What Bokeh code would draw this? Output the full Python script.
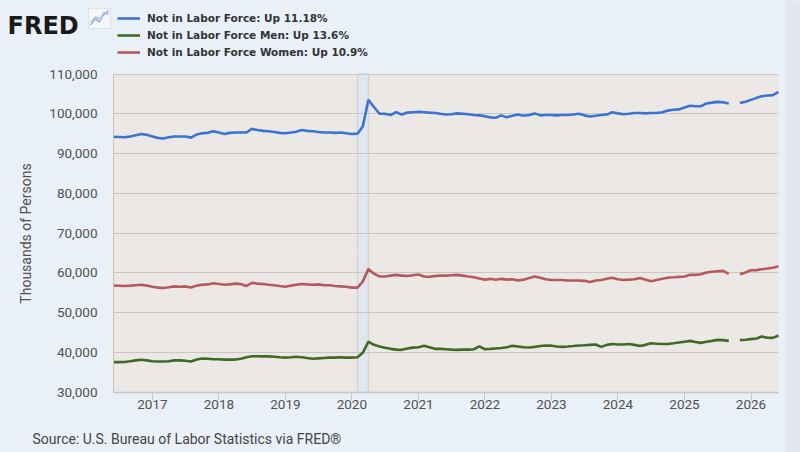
import numpy as np
import pandas as pd
from bokeh.plotting import figure
from bokeh.models import (Range1d, FixedTicker, NumeralTickFormatter, DatetimeTickFormatter,
                          Legend, LegendItem, Label, BoxAnnotation, PolyAnnotation,
                          GlobalInlineStyleSheet)
from bokeh.embed import file_html
from bokeh.resources import INLINE

nan = float("nan")

start_month = "2016-06-01"
end_month = "2026-06-01"

total_nilf = [
    94200, 94150, 94100, 94300, 94600, 94900, 94700,
    94300, 93900, 93800, 94100, 94300, 94300, 94300, 94000, 94800, 95100, 95200, 95600,
    95300, 94900, 95200, 95300, 95300, 95300, 96200, 95900, 95700, 95600, 95400, 95200,
    95100, 95300, 95500, 95900, 95700, 95600, 95400, 95300, 95300, 95200, 95300, 95100,
    94900, 95000, 96800, 103500, 101700, 100000, 100000, 99700, 100400, 99800, 100300, 100400,
    100500, 100400, 100300, 100200, 100000, 99800, 99900, 100100, 100000, 99900, 99700, 99600,
    99400, 99100, 99000, 99600, 99100, 99500, 99800, 99500, 99700, 100100, 99600, 99700,
    99700, 99600, 99700, 99700, 99800, 100000, 99600, 99300, 99500, 99700, 99800, 100400,
    100100, 99900, 100000, 100200, 100200, 100100, 100200, 100200, 100400, 100800, 101000, 101100,
    101600, 102000, 101900, 101900, 102600, 102800, 103000, 102900, 102600, nan, 102700, 103000,
    103500, 104000, 104400, 104600, 104700, 105500,
]

men_nilf = [
    37550, 37550, 37600, 37800, 38000, 38150, 38000,
    37800, 37700, 37700, 37800, 38000, 38000, 37900, 37700, 38200, 38450, 38400, 38300,
    38300, 38200, 38200, 38200, 38400, 38800, 39050, 39050, 39000, 39000, 38900, 38800,
    38700, 38800, 38900, 38800, 38600, 38400, 38500, 38600, 38700, 38700, 38800, 38700,
    38700, 38800, 39900, 42700, 41900, 41500, 41200, 40900, 40700, 40650, 41000, 41200,
    41300, 41650, 41300, 40900, 40900, 40800, 40700, 40650, 40700, 40700, 40800, 41500,
    40800, 40900, 41000, 41100, 41300, 41650, 41500, 41300, 41250, 41400, 41600, 41750,
    41700, 41500, 41400, 41500, 41600, 41750, 41800, 41900, 42000, 41400, 41900, 42100,
    42000, 42000, 42100, 41900, 41600, 41900, 42300, 42200, 42100, 42100, 42300, 42500,
    42700, 42900, 42600, 42400, 42700, 42900, 43150, 43100, 42900, nan, 43100, 43200,
    43350, 43500, 44000, 43700, 43650, 44250,
]

women_nilf = [
    56800, 56750, 56700, 56800, 56900, 57000, 56800,
    56500, 56300, 56200, 56400, 56600, 56500, 56600, 56300, 56800, 57000, 57100, 57400,
    57200, 57000, 57100, 57300, 57200, 56700, 57500, 57300, 57200, 57000, 56900, 56700,
    56500, 56800, 57000, 57200, 57100, 57000, 57100, 56900, 56900, 56700, 56600, 56500,
    56300, 56300, 57800, 61000, 59800, 59100, 59100, 59300, 59500, 59300, 59200, 59400,
    59600, 59100, 59000, 59200, 59300, 59300, 59400, 59500, 59300, 59100, 58900, 58600,
    58300, 58500, 58250, 58500, 58300, 58400, 58100, 58300, 58700, 59100, 58800, 58400,
    58200, 58200, 58200, 58100, 58100, 58100, 58000, 57700, 58100, 58200, 58500, 58800,
    58400, 58200, 58300, 58400, 58700, 58300, 57900, 58200, 58500, 58800, 58900, 59000,
    59100, 59500, 59500, 59650, 60100, 60300, 60400, 60500, 59750, nan, 59650, 60100,
    60650, 60700, 60900, 61100, 61300, 61650,
]

series_labels = [
    "Not in Labor Force: Up 11.18%",
    "Not in Labor Force Men: Up 13.6%",
    "Not in Labor Force Women: Up 10.9%",
]
series_colors = ["#3c73d2", "#3d6b26", "#b55a5c"]

tick_years = [2017, 2018, 2019, 2020, 2021, 2022, 2023, 2024, 2025, 2026]
recession = ("2020-02-01", "2020-04-01")
y_min, y_max = 30000, 110000
y_ticks = [30000, 40000, 50000, 60000, 70000, 80000, 90000, 100000, 110000]

dates = pd.date_range(start_month, end_month, freq="MS")


def ms(d):
    return pd.Timestamp(d).value / 1e6


# canvas geometry (px): the page has no margin, the plotting area sits inside a full-canvas frame
W, H = 800, 452
area_left, area_right = 113.0, 778.0
area_top, area_bottom = 73.5, 391.7

t0, t1 = ms(start_month), ms(end_month)
px_x = (t1 - t0) / (area_right - area_left)
px_y = (y_max - y_min) / (area_bottom - area_top)
x_range = Range1d(t0 - area_left * px_x, t1 + (W - area_right) * px_x)
y_range = Range1d(y_min - (H - area_bottom) * px_y, y_max + area_top * px_y)

PAGE = "#eaf0f8"
AREA = "#ece8e6"

p = figure(width=W, height=H, x_axis_type="datetime", x_range=x_range, y_range=y_range,
           output_backend="svg", toolbar_location=None,
           min_border_left=0, min_border_right=0, min_border_top=0, min_border_bottom=0)
p.border_fill_color = PAGE
p.background_fill_color = PAGE
p.outline_line_color = None
p.stylesheets = [GlobalInlineStyleSheet(css="html,body{margin:0;padding:0;overflow:hidden;background:%s;}" % PAGE)]

# strip at the right edge of the page
p.add_layout(BoxAnnotation(left=785, right=W, top=H, bottom=0,
                           left_units="screen", right_units="screen",
                           top_units="screen", bottom_units="screen",
                           fill_color="#e4e8ee", fill_alpha=1, line_alpha=0, level="image"))

# plotting area background and recession band
p.add_layout(BoxAnnotation(left=t0, right=t1, bottom=y_min, top=y_max,
                           fill_color=AREA, fill_alpha=1.0, line_alpha=0, level="image"))
p.add_layout(BoxAnnotation(left=ms(recession[0]), right=ms(recession[1]), bottom=y_min, top=y_max,
                           fill_color="#e2e7ef", fill_alpha=1.0,
                           line_color="#9fa4ae", line_width=1.4, level="image"))

renderers = []
for vals, col in zip([total_nilf, men_nilf, women_nilf], series_colors):
    r = p.line(dates, np.array(vals, dtype=float), line_color=col, line_width=2.6)
    renderers.append(r)

# axes placed on the plotting area edges
p.xaxis.fixed_location = y_min
p.xaxis.bounds = (t0, t1)
p.xaxis.ticker = FixedTicker(ticks=[ms(f"{y}-01-01") for y in tick_years])
p.xaxis.formatter = DatetimeTickFormatter(years="%Y", months="%Y", days="%Y")
p.xaxis.major_tick_out = 8
p.xaxis.major_tick_in = 0
p.xaxis.minor_tick_out = 0
p.xaxis.minor_tick_in = 0
p.xaxis.major_tick_line_color = "#c8c8c8"
p.xaxis.axis_line_color = "#c4c4c4"
p.xaxis.axis_line_width = 1.5
p.xaxis.major_label_standoff = 0
p.xaxis.major_label_text_font = "Roboto"
p.xaxis.major_label_text_font_size = "13.5px"
p.xaxis.major_label_text_color = "#505050"

p.yaxis.fixed_location = t0
p.yaxis.bounds = (y_min, y_max)
p.yaxis.ticker = FixedTicker(ticks=y_ticks)
p.yaxis.formatter = NumeralTickFormatter(format="0,0")
p.yaxis.major_tick_out = 0
p.yaxis.major_tick_in = 0
p.yaxis.minor_tick_out = 0
p.yaxis.minor_tick_in = 0
p.yaxis.axis_line_color = "#c4c4c4"
p.yaxis.major_label_standoff = 16
p.yaxis.major_label_text_font = "Roboto"
p.yaxis.major_label_text_font_size = "13.5px"
p.yaxis.major_label_text_color = "#505050"
p.yaxis.axis_label = "Thousands of Persons"
p.yaxis.axis_label_text_font = "Roboto"
p.yaxis.axis_label_text_font_size = "14px"
p.yaxis.axis_label_text_font_style = "normal"
p.yaxis.axis_label_text_color = "#505050"
p.yaxis.axis_label_standoff = 12

p.xgrid.grid_line_color = None
p.ygrid.grid_line_color = "#c9c6c4"
p.ygrid.grid_line_width = 1.2
p.ygrid.cross_bounds = (t0, t1)

# legend
legend = Legend(items=[LegendItem(label=l, renderers=[r]) for l, r in zip(series_labels, renderers)],
                location=(115, H - 62), orientation="vertical",
                background_fill_alpha=0, border_line_alpha=0,
                label_text_font="DejaVu Sans", label_text_font_style="bold",
                label_text_font_size="10.5px", label_text_color="#333333",
                glyph_width=23, glyph_height=16, label_height=16, spacing=1,
                padding=2, margin=0, label_standoff=7)
p.add_layout(legend, "center")

# FRED logo
p.add_layout(Label(x=7, y=H - 25, x_units="screen", y_units="screen", text="FRED",
                   text_font="DejaVu Sans", text_font_style="bold", text_font_size="24px",
                   text_color="#1a1a1a", text_baseline="alphabetic"))
p.add_layout(BoxAnnotation(left=88, right=110, top=H - 8, bottom=H - 28,
                           left_units="screen", right_units="screen",
                           top_units="screen", bottom_units="screen",
                           fill_color="#f4f6f9", fill_alpha=1, line_color="#b3b8c0", line_width=1))
zx = [90, 95, 99, 103, 108]
zy1 = [H - 25, H - 19, H - 22, H - 15, H - 11]
zy2 = [H - 22, H - 17, H - 19, H - 13, H - 14]
for zy, c in [(zy1, "#6f94d2"), (zy2, "#9fb6de")]:
    p.add_layout(PolyAnnotation(xs=zx + zx[::-1], ys=zy + [v + 1.2 for v in zy[::-1]],
                                xs_units="screen", ys_units="screen",
                                fill_color=c, fill_alpha=1, line_color=c, line_width=0.6))

# source
p.add_layout(Label(x=32, y=H - 438, x_units="screen", y_units="screen",
                   text="Source: U.S. Bureau of Labor Statistics via FRED®",
                   text_font="Roboto", text_font_size="14px", text_color="#444444",
                   text_baseline="middle"))

open("out.html", "w").write(file_html(p, INLINE))
